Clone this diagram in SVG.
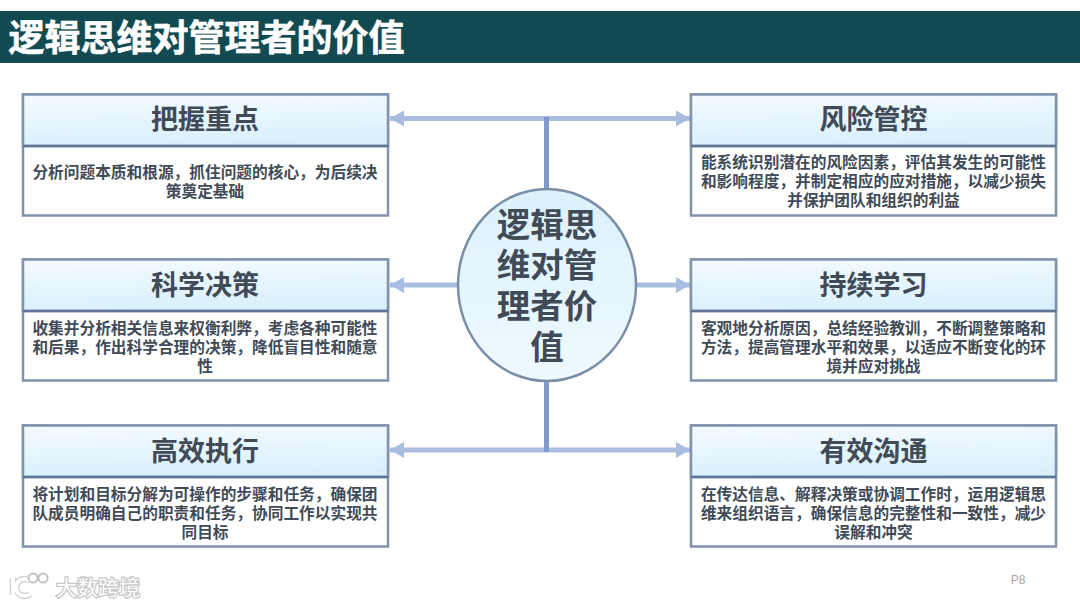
<svg xmlns="http://www.w3.org/2000/svg" width="1080" height="607" viewBox="0 0 1080 607">
<style>
text{font-family:"Noto Sans CJK SC","Liberation Sans",sans-serif;font-weight:700;text-anchor:middle;fill:#414b57}
.box{fill:#fff;stroke:#8193ac;stroke-width:2.5}
.hd{fill:url(#hg);stroke:#8193ac;stroke-width:2.5}
.div{stroke:#5f7596;stroke-width:2.5}
.h{font-size:27px}
.b{font-size:15.7px}
.c{font-size:33.5px}
.ln{stroke:#a9bde0;stroke-width:5;fill:none}
.st{stroke:#7f9bce;stroke-width:5;fill:none}
</style>
<defs>
<linearGradient id="hg" x1="0" y1="0" x2="0.15" y2="1"><stop offset="0" stop-color="#f4fbff"/><stop offset="1" stop-color="#d9f0fc"/></linearGradient>
<linearGradient id="cg" x1="0" y1="0" x2="0" y2="1"><stop offset="0" stop-color="#dcf1fc"/><stop offset="1" stop-color="#eef9fe"/></linearGradient>
<marker id="ah" markerUnits="userSpaceOnUse" markerWidth="14" markerHeight="16" refX="14" refY="8" orient="auto-start-reverse"><path d="M0 0L14 8L0 16Z" fill="#a9bde0"/></marker>
</defs>
<rect width="1080" height="607" fill="#fff"/>
<g id="title"><rect x="0" y="11" width="1080" height="52" fill="#124a52"/>
<text x="206.500" y="51" style="font-size:36px;fill:#fff;stroke:#fff;stroke-width:.6">逻辑思维对管理者的价值</text></g>
<g id="connectors">
<path class="ln" d="M390 118.500H690" marker-start="url(#ah)" marker-end="url(#ah)"/>
<path class="ln" d="M390 450H690" marker-start="url(#ah)" marker-end="url(#ah)"/>
<path class="ln" d="M390 285H458" marker-start="url(#ah)"/>
<path class="ln" d="M636 285H690" marker-end="url(#ah)"/>
<path class="st" d="M546.500 117V190M546.500 380V452"/>
</g>
<g id="node-1"><rect class="box" x="23" y="94.500" width="365" height="121"/><rect class="hd" x="23" y="94.500" width="365" height="51.500"/><path class="div" d="M23 146H388"/>
<text class="h" x="205" y="129">把握重点</text>
<text class="b"><tspan x="205" y="178">分析问题本质和根源，抓住问题的核心，为后续决</tspan><tspan x="205" y="197">策奠定基础</tspan></text></g>
<g id="node-2"><rect class="box" x="23" y="259.500" width="365" height="121"/><rect class="hd" x="23" y="259.500" width="365" height="51.500"/><path class="div" d="M23 311H388"/>
<text class="h" x="205" y="295">科学决策</text>
<text class="b"><tspan x="205" y="334">收集并分析相关信息来权衡利弊，考虑各种可能性</tspan><tspan x="205" y="353">和后果，作出科学合理的决策，降低盲目性和随意</tspan><tspan x="205" y="372">性</tspan></text></g>
<g id="node-3"><rect class="box" x="23" y="425.500" width="365" height="121"/><rect class="hd" x="23" y="425.500" width="365" height="51.500"/><path class="div" d="M23 477H388"/>
<text class="h" x="205" y="461">高效执行</text>
<text class="b"><tspan x="205" y="500">将计划和目标分解为可操作的步骤和任务，确保团</tspan><tspan x="205" y="519">队成员明确自己的职责和任务，协同工作以实现共</tspan><tspan x="205" y="538">同目标</tspan></text></g>
<g id="node-4"><rect class="box" x="691" y="94.500" width="365" height="121"/><rect class="hd" x="691" y="94.500" width="365" height="51.500"/><path class="div" d="M691 146H1056"/>
<text class="h" x="873.500" y="129">风险管控</text>
<text class="b"><tspan x="873.500" y="167.500">能系统识别潜在的风险因素，评估其发生的可能性</tspan><tspan x="873.500" y="186.500">和影响程度，并制定相应的应对措施，以减少损失</tspan><tspan x="873.500" y="205.500">并保护团队和组织的利益</tspan></text></g>
<g id="node-5"><rect class="box" x="691" y="259.500" width="365" height="121"/><rect class="hd" x="691" y="259.500" width="365" height="51.500"/><path class="div" d="M691 311H1056"/>
<text class="h" x="873.500" y="295">持续学习</text>
<text class="b"><tspan x="873.500" y="334">客观地分析原因，总结经验教训，不断调整策略和</tspan><tspan x="873.500" y="353">方法，提高管理水平和效果，以适应不断变化的环</tspan><tspan x="873.500" y="372">境并应对挑战</tspan></text></g>
<g id="node-6"><rect class="box" x="691" y="425.500" width="365" height="121"/><rect class="hd" x="691" y="425.500" width="365" height="51.500"/><path class="div" d="M691 477H1056"/>
<text class="h" x="873.500" y="461">有效沟通</text>
<text class="b"><tspan x="873.500" y="500">在传达信息、解释决策或协调工作时，运用逻辑思</tspan><tspan x="873.500" y="519">维来组织语言，确保信息的完整性和一致性，减少</tspan><tspan x="873.500" y="538">误解和冲突</tspan></text></g>
<g id="center"><ellipse cx="547" cy="285" rx="89" ry="96" fill="url(#cg)" stroke="#7a8ea8" stroke-width="2.500"/>
<text class="c"><tspan x="547" y="237">逻辑思</tspan><tspan x="547" y="277">维对管</tspan><tspan x="547" y="318">理者价</tspan><tspan x="547" y="359">值</tspan></text></g>
<g id="watermark"><text x="98" y="595" style="font-size:21px;fill:#fff;stroke:#c8c8c8;stroke-width:2.500;paint-order:stroke;font-weight:400">大数跨境</text>
<path d="M13 578V595M30 581A8.500 8.500 0 1 0 30 594" fill="none" stroke="#cfcfcf" stroke-width="6.500"/><path d="M13 578V595M30 581A8.500 8.500 0 1 0 30 594" fill="none" stroke="#fff" stroke-width="4"/><circle cx="33" cy="578" r="4.500" fill="#fff" stroke="#c4c4c4" stroke-width="2"/><circle cx="43" cy="578" r="4.500" fill="#fff" stroke="#c4c4c4" stroke-width="2"/></g>
<text id="page" x="1018" y="584" style="font-size:12px;font-weight:400;fill:#a9a9a9;font-family:'Liberation Sans',sans-serif">P8</text>
</svg>
